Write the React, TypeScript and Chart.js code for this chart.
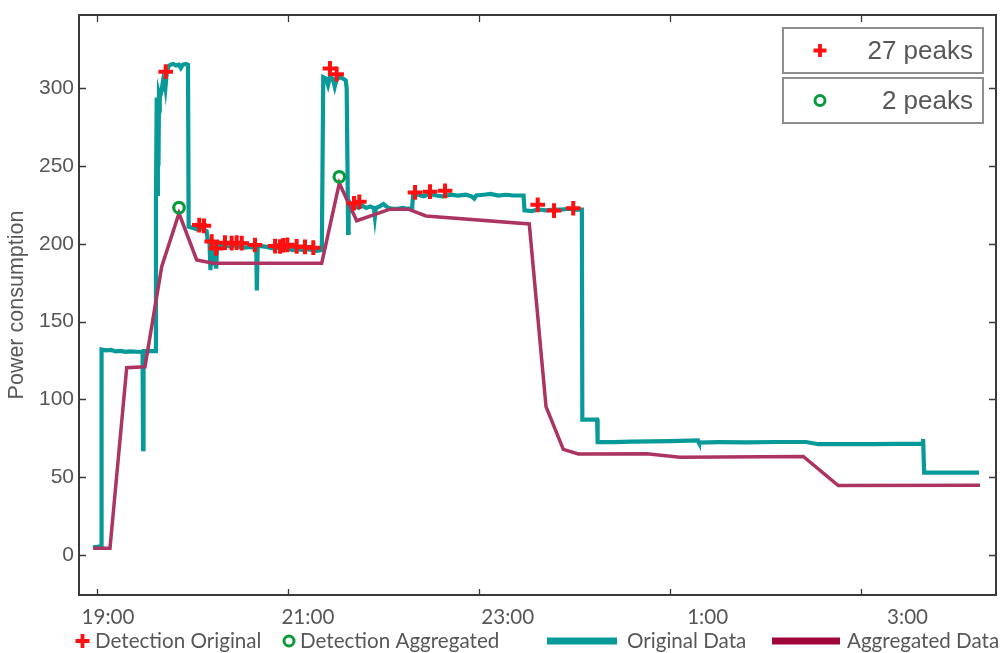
import React, { useEffect, useRef } from 'react';
import { Chart, registerables } from 'chart.js';
Chart.register(...registerables);

// ---- data (time in hours since midnight of day 1; values > 24 are next day) ----
const ORIG_T = [
  18.96, 19.05, 19.051, 19.1, 19.15, 19.2, 19.25, 19.3, 19.35, 19.42, 19.48, 19.485, 19.49, 19.55, 19.615,
  19.62, 19.628, 19.634, 19.64, 19.646, 19.652, 19.66, 19.675, 19.69, 19.7, 19.71, 19.72, 19.735, 19.75, 19.77,
  19.8, 19.83, 19.86, 19.88, 19.9, 19.93, 19.955, 19.962, 19.99, 20.02, 20.06, 20.1, 20.15, 20.16, 20.18,
  20.19, 20.2, 20.215, 20.23, 20.25, 20.26, 20.28, 20.29, 20.31, 20.35, 20.4, 20.45, 20.5, 20.55, 20.6,
  20.67, 20.675, 20.685, 20.72, 20.78, 20.84, 20.9, 20.95, 21.0, 21.05, 21.1, 21.15, 21.2, 21.25, 21.3,
  21.355, 21.37, 21.4, 21.42, 21.44, 21.47, 21.49, 21.51, 21.55, 21.58, 21.605, 21.615, 21.625, 21.63, 21.635,
  21.645, 21.67, 21.7, 21.74, 21.78, 21.82, 21.86, 21.9, 21.91, 21.92, 21.96, 22.0, 22.05, 22.1, 22.15,
  22.2, 22.25, 22.3, 22.31, 22.36, 22.42, 22.48, 22.55, 22.62, 22.7, 22.78, 22.86, 22.92, 22.95, 22.97,
  23.05, 23.12, 23.2, 23.28, 23.36, 23.465, 23.475, 23.55, 23.62, 23.7, 23.78, 23.86, 23.94, 24.0, 24.075,
  24.08, 24.15, 24.235, 24.24, 24.4, 24.6, 24.8, 25.0, 25.2, 25.29, 25.3, 25.5, 25.8, 26.1, 26.42,
  26.55, 26.8, 27.1, 27.4, 27.64, 27.645, 27.655, 27.9, 28.23,
];
const ORIG_V = [
  5, 5.5, 132, 131.5, 131.8, 130.8, 131.2, 130.5, 130.9, 130.6, 130.5, 68, 131, 131, 131,
  228, 294, 232, 292, 250, 296, 294, 297, 303, 298, 306, 301, 311, 314, 315,
  315.5, 314.5, 315, 313, 315, 315.5, 315, 211, 210.5, 210, 209, 210, 208, 203, 201,
  183, 200, 186, 200, 184, 199, 200, 198.5, 199.5, 199, 198, 199, 198, 197.5, 198,
  197, 170, 199, 198.5, 198, 197, 197.5, 196.5, 197, 196, 196.5, 196, 196.5, 196, 195.5,
  196, 307, 306, 302, 307, 306, 301, 306, 307, 306, 305, 300, 240, 207, 222,
  226, 222, 224, 223, 224.5, 223, 224, 223, 217.5, 223, 224, 225.5, 223, 222.5, 222.5,
  223, 222.5, 223, 232, 231.5, 230.5, 232, 231, 230.5, 231.5, 231, 231.5, 230.5, 229, 231,
  231.5, 232, 231, 231.5, 231, 231, 221.5, 221, 222, 221.5, 222, 222, 222.5, 222, 222,
  87, 87, 87, 72.5, 72.5, 72.8, 73, 73.2, 73.5, 73.6, 72.3, 72.5, 72.4, 72.6, 72.6,
  71.2, 71.3, 71.3, 71.4, 71.5, 74.5, 53, 53, 53,
];

const AGG_T = [
  18.964, 19.139, 19.314, 19.505, 19.68, 19.861, 20.046, 20.22, 21.354, 21.538, 21.72, 22.068,
  22.259, 22.445, 23.525, 23.7, 23.881, 24.038, 24.753, 25.101, 26.391, 26.757, 28.24,
];
const AGG_V = [
  4.3, 4.3, 120.4, 121, 185.3, 219.6, 189.6, 187.5, 187.5, 238.9, 214.8, 222.2,
  222.2, 217.9, 212.7, 95.3, 67.9, 64.9, 65, 62.8, 63.3, 44.6, 44.9,
];

const DET_ORIG_T = [
  19.722, 20.073, 20.122, 20.203, 20.248, 20.342, 20.412, 20.464, 20.517, 20.656, 20.866, 20.918, 20.952, 20.994,
  21.092, 21.179, 21.266, 21.44, 21.51, 21.691, 21.747, 22.33, 22.487, 22.644, 23.613, 23.784, 23.985,
];
const DET_ORIG_V = [
  310.6, 212, 211.5, 201.4, 197, 200.7, 200.4, 200.7, 200.4, 199.2, 198.5, 198.2, 199, 199.3,
  198.3, 198, 197.5, 312.7, 309, 226, 227, 233, 233.5, 234, 225, 221.3, 222.8,
];

const DET_AGG_T = [19.861, 21.538];
const DET_AGG_V = [223.2, 243];

const X_TICKS = [19, 21, 23, 25, 27];
const X_TICK_LABELS = ['19:00', '21:00', '23:00', '1:00', '3:00'];
const Y_TICKS = [0, 50, 100, 150, 200, 250, 300];
const Y_TITLE = 'Power consumption';
const LEGEND_LABELS = ['Detection Original', 'Detection Aggregated', 'Original Data', 'Aggregated Data'];
const PEAK_LABELS = ['27 peaks', '2 peaks'];

// ---- styles ----
const TEAL = '#079a99';
const CRIMSON = '#ac3462';
const CRIMSON_LEGEND = '#a1063b';
const RED = '#ff1010';
const GREEN = '#0a9a3c';
const TEXT = '#575757';
const FRAME = '#3a3a3a';
const LEGEND_FONT = '20.6px Lato, sans-serif';

const pts = (t: number[], v: number[]) => t.map((x, i) => ({ x, y: v[i] }));

function drawCross(ctx: CanvasRenderingContext2D, x: number, y: number, r: number) {
  ctx.beginPath();
  ctx.moveTo(x - r, y);
  ctx.lineTo(x + r, y);
  ctx.moveTo(x, y - r);
  ctx.lineTo(x, y + r);
  ctx.strokeStyle = RED;
  ctx.lineWidth = 3.8;
  ctx.stroke();
}
function drawCircle(ctx: CanvasRenderingContext2D, x: number, y: number, r: number) {
  ctx.beginPath();
  ctx.arc(x, y, r, 0, Math.PI * 2);
  ctx.strokeStyle = GREEN;
  ctx.lineWidth = 3;
  ctx.stroke();
}

const zeroPad = (s: any) => {
  s.paddingTop = 0;
  s.paddingBottom = 0;
  s.paddingLeft = 0;
  s.paddingRight = 0;
};

const framePlugin = {
  id: 'frameAndLegends',
  afterDraw(chart: any) {
    const ctx: CanvasRenderingContext2D = chart.ctx;
    const { left, right, top, bottom } = chart.chartArea;
    const xs = chart.scales.x;
    const ys = chart.scales.y;
    ctx.save();
    // frame
    ctx.strokeStyle = FRAME;
    ctx.lineWidth = 2;
    ctx.strokeRect(left, top, right - left, bottom - top);
    // inward ticks
    ctx.lineWidth = 1.3;
    ctx.beginPath();
    X_TICKS.forEach((v) => {
      const px = Math.round(xs.getPixelForValue(v)) + 0.5;
      ctx.moveTo(px, bottom);
      ctx.lineTo(px, bottom - 6);
      ctx.moveTo(px, top);
      ctx.lineTo(px, top + 7);
    });
    Y_TICKS.forEach((v) => {
      const py = Math.round(ys.getPixelForValue(v)) + 0.5;
      ctx.moveTo(left, py);
      ctx.lineTo(left + 7, py);
      ctx.moveTo(right, py);
      ctx.lineTo(right - 7, py);
    });
    ctx.stroke();

    // peak boxes (top right)
    const boxW = 200;
    const boxH = 45;
    const bx = right - 13 - boxW;
    const by0 = top + 13;
    PEAK_LABELS.forEach((lab, i) => {
      const by = by0 + i * (boxH + 5);
      ctx.lineWidth = 2;
      ctx.strokeStyle = '#8e8e8e';
      ctx.strokeRect(bx, by, boxW, boxH);
      const cy = by + boxH / 2;
      if (i === 0) drawCross(ctx, bx + 37, cy, 6.5);
      else drawCircle(ctx, bx + 37, cy, 5);
      ctx.fillStyle = TEXT;
      ctx.font = '26px "Liberation Sans", Arial, sans-serif';
      ctx.textAlign = 'right';
      ctx.textBaseline = 'alphabetic';
      ctx.fillText(lab, bx + boxW - 10, by + 31);
    });

    // bottom legend
    const ly = 641;
    ctx.font = LEGEND_FONT;
    ctx.fillStyle = TEXT;
    ctx.textAlign = 'left';
    ctx.textBaseline = 'alphabetic';
    drawCross(ctx, 82.5, ly, 7);
    ctx.fillStyle = TEXT;
    ctx.fillText(LEGEND_LABELS[0], 95, ly + 7);
    drawCircle(ctx, 289, ly, 5);
    ctx.fillStyle = TEXT;
    ctx.fillText(LEGEND_LABELS[1], 300, ly + 7);
    ctx.lineWidth = 7;
    ctx.strokeStyle = TEAL;
    ctx.beginPath();
    ctx.moveTo(547, ly);
    ctx.lineTo(617, ly);
    ctx.stroke();
    ctx.fillText(LEGEND_LABELS[2], 627, ly + 7);
    ctx.strokeStyle = CRIMSON_LEGEND;
    ctx.beginPath();
    ctx.moveTo(772, ly);
    ctx.lineTo(840, ly);
    ctx.stroke();
    ctx.fillText(LEGEND_LABELS[3], 847, ly + 7);
    ctx.restore();
  },
};

export default function App() {
  const ref = useRef<HTMLCanvasElement | null>(null);
  useEffect(() => {
    if (!ref.current) return;
    const chart = new Chart(ref.current, {
      type: 'line',
      data: {
        datasets: [
          {
            label: LEGEND_LABELS[0],
            data: pts(DET_ORIG_T, DET_ORIG_V),
            showLine: false,
            pointStyle: 'cross',
            pointRadius: 7.3,
            pointBorderWidth: 4,
            borderColor: RED,
            backgroundColor: RED,
          },
          {
            label: LEGEND_LABELS[1],
            data: pts(DET_AGG_T, DET_AGG_V),
            showLine: false,
            pointStyle: 'circle',
            pointRadius: 5.3,
            pointBorderWidth: 3.2,
            borderColor: GREEN,
            backgroundColor: 'rgba(0,0,0,0)',
          },
          {
            label: LEGEND_LABELS[3],
            data: pts(AGG_T, AGG_V),
            borderColor: CRIMSON,
            borderWidth: 3.5,
            pointRadius: 0,
            tension: 0,
          },
          {
            label: LEGEND_LABELS[2],
            data: pts(ORIG_T, ORIG_V),
            borderColor: TEAL,
            borderWidth: 4.2,
            pointRadius: 0,
            tension: 0,
          },
        ],
      },
      options: {
        responsive: false,
        animation: false,
        events: [],
        layout: { autoPadding: false, padding: { top: 15, right: 6, left: 0, bottom: 0 } },
        plugins: { legend: { display: false }, tooltip: { enabled: false } },
        scales: {
          x: {
            type: 'linear',
            display: false,
            min: 18.815,
            max: 28.407,
            afterBuildTicks: (s: any) => {
              s.ticks = X_TICKS.map((v) => ({ value: v }));
            },
          },
          xl: {
            type: 'linear',
            position: 'bottom',
            min: 18.71,
            max: 27.885,
            grid: { display: false, drawTicks: false },
            border: { display: false },
            ticks: {
              autoSkip: false,
              maxRotation: 0,
              padding: 10,
              color: TEXT,
              font: { family: 'Lato, sans-serif', size: 20.6 },
              callback: (_v: any, i: number) => X_TICK_LABELS[i],
            },
            afterBuildTicks: (s: any) => {
              s.ticks = X_TICKS.map((v) => ({ value: v }));
            },
            afterFit: (s: any) => {
              s.height = 58;
              zeroPad(s);
            },
          },
          y: {
            type: 'linear',
            min: -25.7,
            max: 347,
            grid: { display: false, drawTicks: false },
            border: { display: false },
            ticks: {
              padding: 5,
              color: TEXT,
              font: { family: '"Liberation Sans", Arial, sans-serif', size: 21 },
            },
            afterBuildTicks: (s: any) => {
              s.ticks = Y_TICKS.map((v) => ({ value: v }));
            },
            title: {
              display: true,
              text: Y_TITLE,
              color: TEXT,
              font: { family: '"Liberation Sans", Arial, sans-serif', size: 21.5 },
              padding: { top: 4, bottom: 0 },
            },
            afterFit: (s: any) => {
              s.width = 79;
              zeroPad(s);
            },
          },
        },
      },
      plugins: [framePlugin],
    } as any);
    return () => chart.destroy();
  }, []);
  return (
    <div style={{ position: 'absolute', left: 0, top: 0, width: 1002, height: 653, background: '#fff' }}>
      <canvas ref={ref} width={1002} height={653} />
    </div>
  );
}
